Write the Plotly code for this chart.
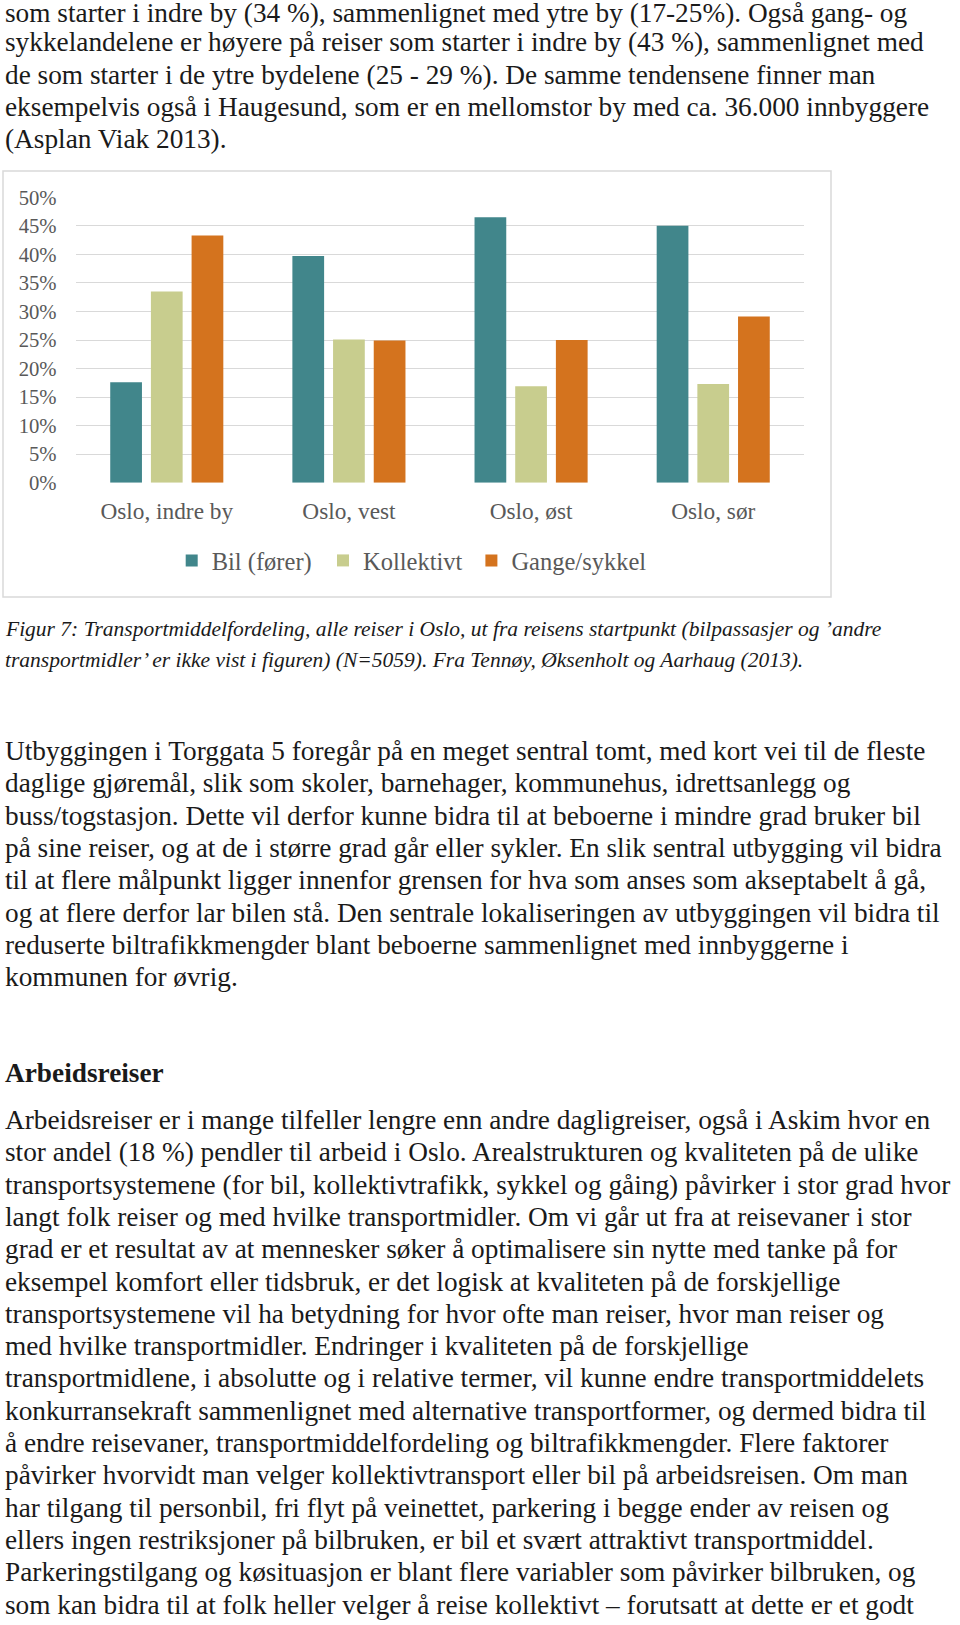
import plotly.graph_objects as go

W, H = 960, 1625

categories = ["Oslo, indre by", "Oslo, vest", "Oslo, øst", "Oslo, sør"]
bil = [0.176, 0.397, 0.465, 0.450]
kollektivt = [0.335, 0.251, 0.169, 0.173]
gange = [0.433, 0.249, 0.250, 0.291]
series_names = ["Bil (fører)", "Kollektivt", "Gange/sykkel"]
series_colors = ["#41868B", "#C8CD8E", "#D4731E"]
y_ticks = [0, 0.05, 0.10, 0.15, 0.20, 0.25, 0.30, 0.35, 0.40, 0.45, 0.50]

para1 = [
    "som starter i indre by (34 %), sammenlignet med ytre by (17-25%). Også gang- og",
    "sykkelandelene er høyere på reiser som starter i indre by (43 %), sammenlignet med",
    "de som starter i de ytre bydelene (25 - 29 %). De samme tendensene finner man",
    "eksempelvis også i Haugesund, som er en mellomstor by med ca. 36.000 innbyggere",
    "(Asplan Viak 2013).",
]
caption = [
    "Figur 7: Transportmiddelfordeling, alle reiser i Oslo, ut fra reisens startpunkt (bilpassasjer og ’andre",
    "transportmidler’ er ikke vist i figuren) (N=5059). Fra Tennøy, Øksenholt og Aarhaug (2013).",
]
para2 = [
    "Utbyggingen i Torggata 5 foregår på en meget sentral tomt, med kort vei til de fleste",
    "daglige gjøremål, slik som skoler, barnehager, kommunehus, idrettsanlegg og",
    "buss/togstasjon. Dette vil derfor kunne bidra til at beboerne i mindre grad bruker bil",
    "på sine reiser, og at de i større grad går eller sykler. En slik sentral utbygging vil bidra",
    "til at flere målpunkt ligger innenfor grensen for hva som anses som akseptabelt å gå,",
    "og at flere derfor lar bilen stå. Den sentrale lokaliseringen av utbyggingen vil bidra til",
    "reduserte biltrafikkmengder blant beboerne sammenlignet med innbyggerne i",
    "kommunen for øvrig.",
]
heading = "Arbeidsreiser"
para3 = [
    "Arbeidsreiser er i mange tilfeller lengre enn andre dagligreiser, også i Askim hvor en",
    "stor andel (18 %) pendler til arbeid i Oslo. Arealstrukturen og kvaliteten på de ulike",
    "transportsystemene (for bil, kollektivtrafikk, sykkel og gåing) påvirker i stor grad hvor",
    "langt folk reiser og med hvilke transportmidler. Om vi går ut fra at reisevaner i stor",
    "grad er et resultat av at mennesker søker å optimalisere sin nytte med tanke på for",
    "eksempel komfort eller tidsbruk, er det logisk at kvaliteten på de forskjellige",
    "transportsystemene vil ha betydning for hvor ofte man reiser, hvor man reiser og",
    "med hvilke transportmidler. Endringer i kvaliteten på de forskjellige",
    "transportmidlene, i absolutte og i relative termer, vil kunne endre transportmiddelets",
    "konkurransekraft sammenlignet med alternative transportformer, og dermed bidra til",
    "å endre reisevaner, transportmiddelfordeling og biltrafikkmengder. Flere faktorer",
    "påvirker hvorvidt man velger kollektivtransport eller bil på arbeidsreisen. Om man",
    "har tilgang til personbil, fri flyt på veinettet, parkering i begge ender av reisen og",
    "ellers ingen restriksjoner på bilbruken, er bil et svært attraktivt transportmiddel.",
    "Parkeringstilgang og køsituasjon er blant flere variabler som påvirker bilbruken, og",
    "som kan bidra til at folk heller velger å reise kollektivt – forutsatt at dette er et godt",
]

FONT = "Liberation Serif"
BODY = 27.3
PITCH = 32.3
TEXT_X = 3
VSHIFT = -2.5  # box centre vs. visual lowercase centre


def px(x):
    return x / W


def py(y):
    return 1 - y / H


fig = go.Figure()
legend_ids = ["legend", "legend2", "legend3"]
for name, vals, col, lg in zip(series_names, [bil, kollektivt, gange], series_colors, legend_ids):
    fig.add_trace(go.Bar(name=name, x=categories, y=vals, marker_color=col,
                         marker_line_width=0, legend=lg, showlegend=True))

annotations = []


def add_lines(lines, y_list, size=BODY, italic=False, bold=False, color="#1a1a1a"):
    for t, y in zip(lines, y_list):
        txt = t
        if italic:
            txt = "<i>" + txt + "</i>"
        if bold:
            txt = "<b>" + txt + "</b>"
        annotations.append(dict(
            text=txt, x=px(TEXT_X), y=py(y + VSHIFT), xref="paper", yref="paper",
            xanchor="left", yanchor="middle", showarrow=False,
            font=dict(family=FONT, size=size, color=color)))


def rows(y0, n, pitch=PITCH):
    return [y0 + i * pitch for i in range(n)]


p1_rows = rows(12.6, len(para1))
p1_rows[0] += 3.0
add_lines(para1, p1_rows)
add_lines(caption, rows(631.5, len(caption), 31), size=21.5, italic=True)
add_lines(para2, rows(753.6, len(para2)))
add_lines([heading], [1075.0], bold=True)
add_lines(para3, rows(1122.5, len(para3)))

shapes = [dict(type="rect", xref="paper", yref="paper",
               x0=px(3), x1=px(831), y0=py(171), y1=py(597),
               line=dict(color="#d9d9d9", width=1.5), fillcolor="rgba(0,0,0,0)")]

legend_x = [171.7, 323.0, 471.4]
leg_common = dict(orientation="h", yanchor="middle", xanchor="left", y=py(560.5),
                  font=dict(size=24.5, color="#595959", family=FONT),
                  itemwidth=30, bgcolor="rgba(0,0,0,0)", visible=True)

fig.update_layout(
    width=W, height=H,
    showlegend=True,
    margin=dict(l=0, r=0, t=0, b=0, autoexpand=False),
    paper_bgcolor="white", plot_bgcolor="white",
    barmode="group", bargap=0.33, bargroupgap=0.22,
    font=dict(family=FONT, color="#595959"),
    xaxis=dict(domain=[px(75.7), px(804.3)], showgrid=False, showline=False,
               ticks="outside", ticklen=7, tickcolor="rgba(0,0,0,0)",
               tickfont=dict(size=23.3, color="#595959", family=FONT), zeroline=False,
               fixedrange=True, automargin=False),
    yaxis=dict(domain=[py(482.7), py(197.3)], range=[0, 0.5], tickvals=y_ticks,
               tickformat=".0%", showgrid=True, gridcolor="#d9d9d9", gridwidth=1.2,
               zeroline=False, showline=False, ticks="outside", ticklen=14,
               tickcolor="rgba(0,0,0,0)",
               tickfont=dict(size=20.7, color="#595959", family=FONT), fixedrange=True,
               automargin=False),
    legend=dict(x=px(legend_x[0]), **leg_common),
    legend2=dict(x=px(legend_x[1]), **leg_common),
    legend3=dict(x=px(legend_x[2]), **leg_common),
    annotations=annotations,
    shapes=shapes,
)

fig.write_html("out.html", config={"displayModeBar": False},
               post_script="document.body.style.margin='0';")
